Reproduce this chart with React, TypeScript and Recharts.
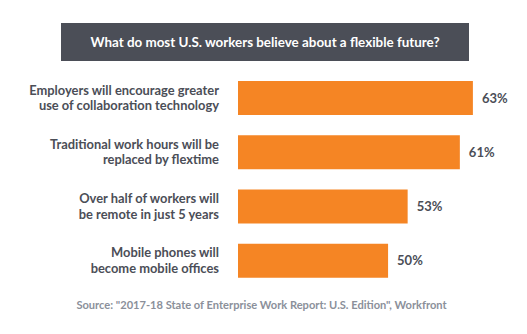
import React from "react";
import { BarChart, Bar, XAxis, YAxis, LabelList } from "recharts";

const title = "What do most U.S. workers believe about a flexible future?";
const categories = [
  "Employers will encourage greater\nuse of collaboration technology",
  "Traditional work hours will be\nreplaced by flextime",
  "Over half of workers will\nbe remote in just 5 years",
  "Mobile phones will\nbecome mobile offices",
];
const values = [63, 61, 53, 50];
const source = 'Source: "2017-18 State of Enterprise Work Report: U.S. Edition", Workfront';

const data = categories.map((c, i) => ({ name: c, value: values[i] }));

const FONT = "Lato, 'Open Sans', sans-serif";
const DARK = "#4b4e57";

const CategoryTick = (props: any) => {
  const { x, y, payload } = props;
  const lines = String(payload.value).split("\n");
  return (
    <g>
      {lines.map((l, i) => (
        <text
          key={i}
          x={x}
          y={y - 3.5 + i * 15.5}
          textAnchor="end"
          fill={DARK}
          fontFamily={FONT}
          fontSize={12.9}
          fontWeight={700}
        >
          {l}
        </text>
      ))}
    </g>
  );
};

export default function App() {
  return (
    <div style={{ position: "absolute", left: 0, top: 0, width: 527, height: 334, background: "#fff" }}>
      <div
        style={{
          position: "absolute",
          left: 61,
          top: 23,
          width: 408,
          height: 38,
          background: DARK,
          color: "#fff",
          fontFamily: FONT,
          fontWeight: 700,
          fontSize: 13.4,
          display: "flex",
          alignItems: "center",
          justifyContent: "center",
        }}
      >
        {title}
      </div>
      <BarChart
        width={527}
        height={334}
        data={data}
        layout="vertical"
        margin={{ top: 71, right: 28, bottom: 46, left: 0 }}
      >
        <XAxis type="number" domain={[27, 67]} hide allowDataOverflow />
        <YAxis
          type="category"
          dataKey="name"
          width={238}
          axisLine={false}
          tickLine={false}
          tickSize={0}
          tickMargin={19}
          tick={<CategoryTick />}
          interval={0}
        />
        <Bar dataKey="value" fill="#f58524" barSize={34} isAnimationActive={false}>
          <LabelList
            dataKey="value"
            position="right"
            offset={9}
            formatter={(v: any) => `${v}%`}
            fill={DARK}
            fontFamily={FONT}
            fontSize={13}
            fontWeight={700}
          />
        </Bar>
      </BarChart>
      <div
        style={{
          position: "absolute",
          left: 0,
          top: 298,
          width: 527,
          textAlign: "center",
          color: "#8b909a",
          fontFamily: FONT,
          fontWeight: 700,
          fontSize: 11.1,
        }}
      >
        <span style={{ position: "relative", left: -2 }}>{source}</span>
      </div>
    </div>
  );
}
